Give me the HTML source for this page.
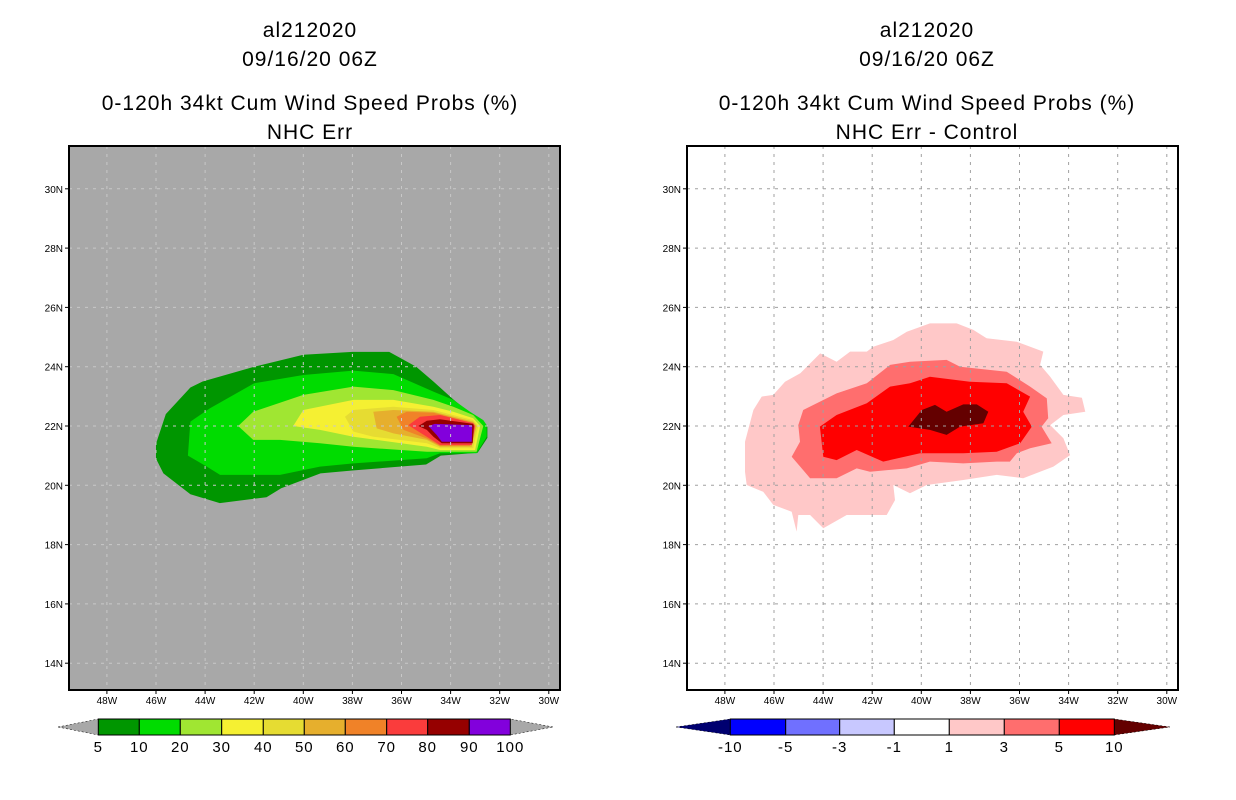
<!DOCTYPE html>
<html><head><meta charset="utf-8"><style>
body{margin:0;background:#fff;}
svg{display:block;font-family:"Liberation Sans",sans-serif;}
</style></head><body>
<svg id="c" width="1236" height="800" viewBox="0 0 1236 800"></svg>
<script>
const lonTicks=[-48,-46,-44,-42,-40,-38,-36,-34,-32,-30];
const lonLabels=["48W","46W","44W","42W","40W","38W","36W","34W","32W","30W"];
const latTicks=[30,28,26,24,22,20,18,16,14];
const latLabels=["30N","28N","26N","24N","22N","20N","18N","16N","14N"];
const probLevels=["5","10","20","30","40","50","60","70","80","90","100"];
const probColors=["#009600","#00dc00","#a0e632","#f5f032","#e6dc32","#e6af2d","#f08228","#fa3c3c","#960000","#8200dc"];
const diffLevels=["-10","-5","-3","-1","1","3","5","10"];
const diffColors=["#000070","#0000ff","#7070ff","#c8c8ff","#ffffff","#ffc8c8","#ff6e6e","#ff0000","#640000"];
const p5=[[-46.0,21.4],[-45.6,22.4],[-44.6,23.3],[-44.1,23.5],[-42.0,24.0],[-40.0,24.4],[-38.0,24.5],[-36.5,24.5],[-35.4,24.0],[-34.7,23.5],[-33.9,22.9],[-33.3,22.5],[-32.5,22.0],[-32.5,21.6],[-32.9,21.1],[-34.4,21.0],[-35.0,20.7],[-38.0,20.5],[-39.3,20.4],[-40.9,19.9],[-41.5,19.6],[-43.4,19.4],[-44.6,19.7],[-45.7,20.4],[-46.0,20.9]];
const p10=[[-44.7,21.0],[-44.6,22.15],[-43.8,22.6],[-42.0,23.44],[-40.0,23.72],[-37.96,23.87],[-36.33,23.75],[-34.7,23.16],[-33.89,22.88],[-33.21,22.48],[-32.67,22.2],[-32.53,22.03],[-32.53,21.64],[-32.94,21.08],[-34.43,21.08],[-34.97,20.91],[-37.96,20.74],[-39.32,20.63],[-40.95,20.35],[-43.39,20.35],[-43.93,20.63]];
const p20=[[-42.65,22.0],[-42.04,22.48],[-40.0,23.05],[-37.96,23.33],[-36.33,23.21],[-34.7,22.88],[-33.89,22.65],[-33.08,22.37],[-32.67,22.0],[-32.94,21.13],[-34.43,21.13],[-34.97,21.13],[-37.96,21.3],[-39.32,21.42],[-40.95,21.53],[-42.04,21.53]];
const p30=[[-40.41,22.0],[-40.0,22.54],[-37.96,22.88],[-36.33,22.88],[-34.7,22.65],[-33.89,22.48],[-33.08,22.26],[-32.8,22.0],[-33.0,21.19],[-34.43,21.19],[-34.97,21.3],[-37.96,21.64],[-39.32,21.87]];
const p40=[[-38.3,22.31],[-37.96,22.54],[-36.33,22.65],[-34.7,22.54],[-33.08,22.2],[-32.87,22.0],[-33.08,21.25],[-34.43,21.25],[-34.97,21.42],[-37.15,21.64],[-37.96,21.81]];
const p50=[[-37.15,22.48],[-36.33,22.54],[-34.7,22.48],[-33.08,22.15],[-32.94,22.0],[-33.14,21.3],[-34.43,21.3],[-34.97,21.53],[-36.33,21.75],[-37.01,21.92]];
const p60=[[-36.2,22.31],[-35.79,22.48],[-34.7,22.45],[-33.08,22.11],[-33.01,22.0],[-33.21,21.33],[-34.43,21.33],[-34.97,21.58],[-35.92,21.87]];
const p70=[[-35.72,22.03],[-35.25,22.31],[-34.43,22.37],[-33.08,22.09],[-33.0,22.0],[-33.14,21.36],[-34.43,21.36],[-34.97,21.64],[-35.52,21.92]];
const p80=[[-35.31,22.0],[-34.97,22.18],[-34.43,22.23],[-33.08,22.07],[-33.05,22.0],[-33.1,21.42],[-34.36,21.42],[-34.7,21.64],[-34.97,21.87]];
const p90=[[-34.91,22.0],[-34.64,22.07],[-33.15,22.03],[-33.12,22.0],[-33.14,21.47],[-34.36,21.47],[-34.57,21.7]];
const d1=[[-47.18,21.47],[-46.84,22.54],[-46.5,22.99],[-46.03,23.05],[-45.55,23.49],[-44.93,23.78],[-44.12,24.45],[-43.45,24.17],[-42.9,24.51],[-42.22,24.51],[-41.96,24.67],[-41.14,24.9],[-40.59,25.18],[-39.65,25.46],[-38.56,25.46],[-37.88,25.24],[-37.34,24.96],[-36.11,24.84],[-35.03,24.51],[-35.16,24.06],[-34.75,23.66],[-34.21,23.05],[-33.46,22.95],[-33.32,22.48],[-34.21,22.37],[-34.75,22.03],[-34.21,21.59],[-33.94,21.02],[-34.62,20.63],[-35.85,20.24],[-36.93,20.35],[-38.29,20.18],[-39.78,20.01],[-40.46,19.73],[-41.14,20.01],[-41.07,19.5],[-41.41,19.0],[-43.04,19.0],[-43.99,18.55],[-44.53,19.0],[-45.01,19.0],[-45.08,18.44],[-45.28,19.11],[-46.03,19.34],[-46.44,19.78],[-47.11,20.01],[-47.18,20.46]];
const d3=[[-45.28,20.96],[-44.94,21.47],[-45.01,22.03],[-44.81,22.54],[-43.45,23.1],[-42.22,23.44],[-41.27,24.06],[-40.46,24.17],[-38.97,24.23],[-38.42,24.0],[-36.52,23.83],[-35.57,23.33],[-34.89,22.93],[-34.83,22.26],[-35.1,21.98],[-34.69,21.42],[-35.57,21.25],[-36.11,21.08],[-36.39,20.8],[-36.93,20.8],[-38.29,20.74],[-39.65,20.8],[-40.59,20.57],[-42.09,20.46],[-42.63,20.57],[-43.45,20.24],[-44.53,20.24],[-44.87,20.57]];
const d5=[[-44.13,21.98],[-43.45,22.37],[-42.22,22.77],[-41.27,23.33],[-40.46,23.44],[-39.65,23.66],[-38.02,23.49],[-36.52,23.44],[-35.57,22.99],[-35.85,22.48],[-35.5,21.98],[-35.97,21.42],[-36.93,21.13],[-38.29,21.08],[-40.05,21.08],[-41.55,20.8],[-42.63,21.19],[-43.45,20.85],[-43.99,20.96]];
const d10=[[-40.53,21.98],[-39.98,22.54],[-39.44,22.71],[-38.97,22.48],[-38.29,22.73],[-37.74,22.73],[-37.27,22.48],[-37.47,22.09],[-38.42,21.98],[-38.97,21.7],[-39.65,21.87]];

const NS="http://www.w3.org/2000/svg";
const svg=document.getElementById('c');
function mk(tag,attrs,parent){const e=document.createElementNS(NS,tag);for(const k in attrs)e.setAttribute(k,attrs[k]);(parent||svg).appendChild(e);return e;}
function panel(x0,bg,name,polys,colors){
  const g=mk('g',{});
  
  
  const L=x0,T=146,W=491,H=544;
  const X=lon=>x0+234.3+(lon+40)*24.55;
  const Y=lat=>426-(lat-22)*29.65;
  mk('rect',{x:L,y:T,width:W,height:H,fill:bg},g);
  polys.forEach((p,i)=>{
    const e=mk('polygon',{points:p.map(q=>X(q[0]).toFixed(1)+','+Y(q[1]).toFixed(1)).join(' '),fill:colors[i]},g);
    
    
  });
  const gc=bg==='#ffffff'?'#a0a0a0':'#c8c8c8';
  lonTicks.forEach((lo,i)=>{
    const x=X(lo);
    mk('line',{x1:x,y1:T,x2:x,y2:T+H,stroke:gc,'stroke-width':1,'stroke-dasharray':'3,5'},g);
    mk('line',{x1:x,y1:T+H,x2:x,y2:T+H+4,stroke:'#000','stroke-width':1},g);
    const t=mk('text',{x:x,y:T+H+14,'font-size':10,'text-anchor':'middle'},g);t.textContent=lonLabels[i];
    
    
  });
  latTicks.forEach((la,i)=>{
    const y=Y(la);
    mk('line',{x1:L,y1:y,x2:L+W,y2:y,stroke:gc,'stroke-width':1,'stroke-dasharray':'3,5'},g);
    mk('line',{x1:L-4,y1:y,x2:L,y2:y,stroke:'#000','stroke-width':1},g);
    const t=mk('text',{x:L-6,y:y+4,'font-size':10,'text-anchor':'end'},g);t.textContent=latLabels[i];
    
    
  });
  mk('rect',{x:L,y:T,width:W,height:H,fill:'none',stroke:'#000','stroke-width':2},g);
}
panel(69,'#a8a8a8','left-map',[p5,p10,p20,p30,p40,p50,p60,p70,p80,p90],probColors);
panel(687,'#ffffff','right-map',[d1,d3,d5,d10],[diffColors[5],diffColors[6],diffColors[7],diffColors[8]]);

function titles(cx,lines){
  const ys=[37,66,110,139];
  lines.forEach((s,i)=>{const t=mk('text',{x:cx,y:ys[i],'font-size':21,'text-anchor':'middle','letter-spacing':'1'});t.textContent=s;
    
    });
}
titles(310,["al212020","09/16/20 06Z","0-120h 34kt Cum Wind Speed Probs (%)","NHC Err"]);
titles(927,["al212020","09/16/20 06Z","0-120h 34kt Cum Wind Speed Probs (%)","NHC Err - Control"]);

function colorbar(edges,tips,colors,labels,triCols,name){
  const g=mk('g',{});
  
  
  const y0=719,y1=735,ym=727;
  mk('polygon',{points:`${tips[0]},${ym} ${edges[0]},${y0} ${edges[0]},${y1}`,fill:triCols[0],stroke:'#000','stroke-width':0.5,'stroke-dasharray':'2,2'},g);
  const n=edges.length-1;
  mk('polygon',{points:`${tips[1]},${ym} ${edges[n]},${y0} ${edges[n]},${y1}`,fill:triCols[1],stroke:'#000','stroke-width':0.5,'stroke-dasharray':'2,2'},g);
  for(let i=0;i<n;i++){
    mk('rect',{x:edges[i],y:y0,width:edges[i+1]-edges[i],height:y1-y0,fill:colors[i],stroke:'#000','stroke-width':1},g);
  }
  labels.forEach((s,i)=>{const t=mk('text',{x:edges[i],y:752,'font-size':15,'text-anchor':'middle','letter-spacing':'1'},g);t.textContent=s;
    
    });
}
colorbar([98.3,139.3,180.3,221.7,263.3,304.3,345.3,386.7,427.7,469.3,510.3],[58,553],probColors,probLevels,['#a8a8a8','#a8a8a8'],'prob-colorbar');
colorbar([730.3,785.7,839.7,894.3,949.3,1004.3,1059.3,1114.3],[676,1170],diffColors.slice(1,8),diffLevels,[diffColors[0],diffColors[8]],'diff-colorbar');
</script>
</body></html>
